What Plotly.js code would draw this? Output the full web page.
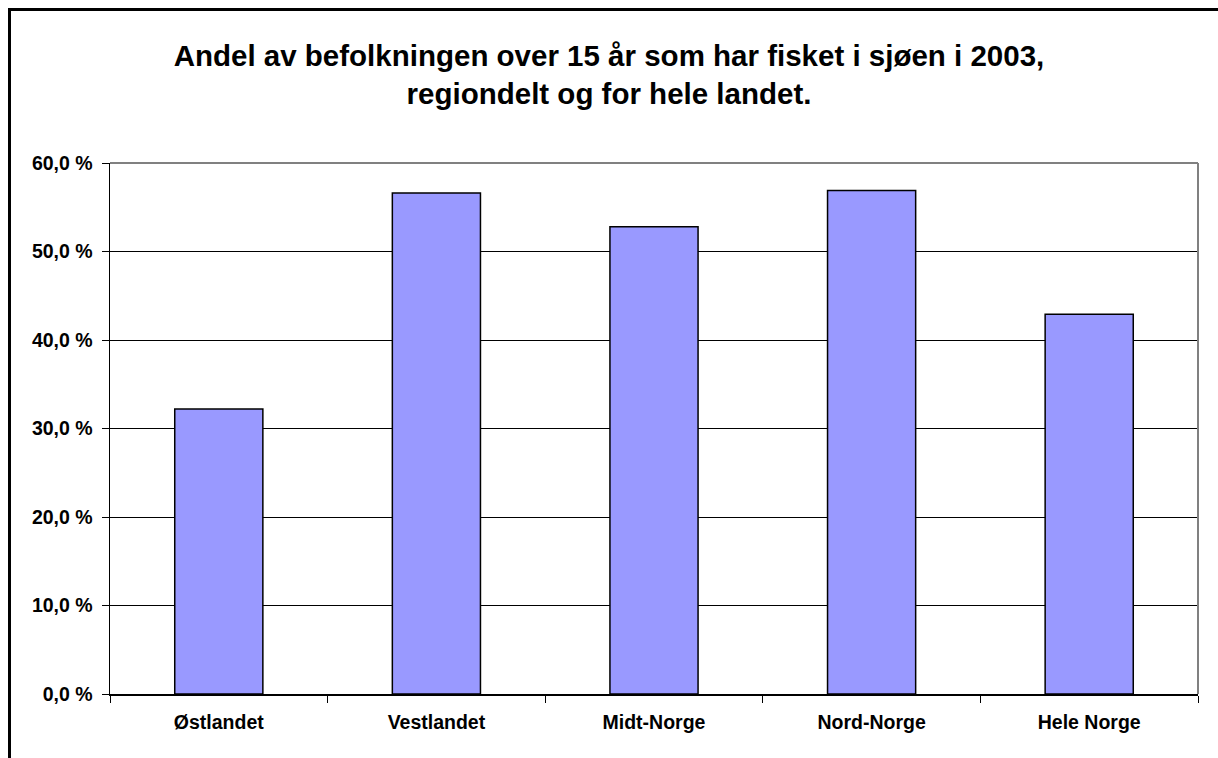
<!DOCTYPE html>
<html>
<head>
<meta charset="utf-8">
<script src="https://cdn.plot.ly/plotly-3.0.1.min.js"></script>
<style>
html,body{margin:0;padding:0;background:#fff;}
#wrap{position:relative;width:1218px;height:758px;overflow:hidden;}
#chart{width:1218px;height:758px;}
#frame{position:absolute;left:8px;top:8px;width:1300px;height:900px;border-left:3px solid #000;border-top:3px solid #000;pointer-events:none;}
</style>
</head>
<body>
<div id="wrap">
<div id="chart"></div>
<div id="frame"></div>
</div>
<script>
const categories = ["Østlandet", "Vestlandet", "Midt-Norge", "Nord-Norge", "Hele Norge"];
const values = [32.2, 56.6, 52.8, 56.9, 42.9];
const titleText = "Andel av befolkningen over 15 år som har fisket i sjøen i 2003,<br>regiondelt og for hele landet.";

const font = "Liberation Sans, Arial, sans-serif";

const data = [{
  type: "bar",
  x: categories,
  y: values,
  marker: {color: "#9999FF", line: {color: "#000000", width: 1.5}},
  hoverinfo: "x+y"
}];

const layout = {
  width: 1218,
  height: 758,
  margin: {l: 110, r: 20, t: 163, b: 64},
  paper_bgcolor: "#ffffff",
  plot_bgcolor: "#ffffff",
  separators: ", ",
  bargap: 0.595,
  showlegend: false,
  font: {family: font, color: "#000"},
  title: {
    text: "<b>" + titleText + "</b>",
    font: {family: font, size: 29.5, color: "#000"},
    x: 0.5, xanchor: "center",
    y: 1 - 66/758, yref: "container", yanchor: "top"
  },
  xaxis: {
    type: "category",
    showline: true, linecolor: "#000", linewidth: 1.5,
    ticks: "outside", tickson: "boundaries", ticklen: 7, tickcolor: "#000", tickwidth: 1,
    tickfont: {family: font, size: 19.5, color: "#000", weight: "bold"},
    showgrid: false, zeroline: false,
    ticklabelstandoff: 10
  },
  yaxis: {
    range: [0, 60], dtick: 10, tick0: 0,
    tickformat: ".1f", ticksuffix: " %",
    showline: true, linecolor: "#000", linewidth: 1.5,
    ticks: "outside", ticklen: 7, tickcolor: "#000", tickwidth: 1,
    tickfont: {family: font, size: 19.5, color: "#000", weight: "bold"},
    showgrid: true, gridcolor: "#000", gridwidth: 1,
    zeroline: false,
    ticklabelstandoff: 5
  },
  shapes: [
    {type: "line", xref: "paper", yref: "paper", x0: 0, x1: 1, y0: 1, y1: 1, line: {color: "#808080", width: 2}},
    {type: "line", xref: "paper", yref: "paper", x0: 1, x1: 1, y0: 0, y1: 1, line: {color: "#808080", width: 2}}
  ]
};

Plotly.newPlot("chart", data, layout, {displayModeBar: false, staticPlot: true});
</script>
</body>
</html>
